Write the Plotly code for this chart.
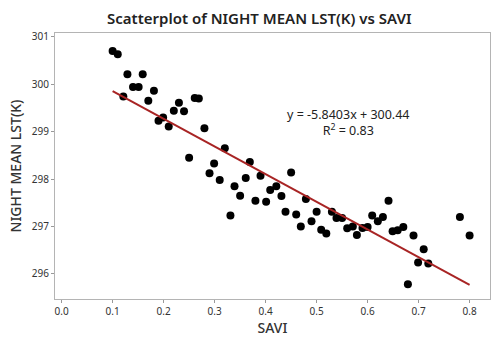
import plotly.graph_objects as go

savi = [0.100, 0.110, 0.129, 0.159, 0.140, 0.151, 0.121, 0.181, 0.170, 0.230,
        0.220, 0.240, 0.261, 0.269, 0.199, 0.190, 0.210, 0.280, 0.320, 0.299,
        0.290, 0.310, 0.369, 0.339, 0.361, 0.350, 0.331, 0.390, 0.380, 0.401,
        0.450, 0.409, 0.421, 0.431, 0.439, 0.460, 0.479, 0.469, 0.500, 0.490,
        0.509, 0.519, 0.530, 0.539, 0.550, 0.560, 0.571, 0.579, 0.590, 0.600,
        0.609, 0.620, 0.630, 0.641, 0.649, 0.659, 0.670, 0.690, 0.710, 0.699,
        0.719, 0.781, 0.800, 0.679, 0.250]
lst = [300.70, 300.63, 300.21, 300.21, 299.94, 299.94, 299.74, 299.86, 299.65, 299.61,
       299.44, 299.43, 299.71, 299.70, 299.30, 299.23, 299.11, 299.07, 298.65, 298.33,
       298.12, 297.98, 298.36, 297.85, 298.02, 297.65, 297.23, 298.07, 297.54, 297.52,
       298.14, 297.77, 297.85, 297.64, 297.31, 297.25, 297.58, 297.00, 297.31, 297.11,
       296.93, 296.85, 297.31, 297.18, 297.18, 296.96, 297.00, 296.82, 296.97, 296.99,
       297.23, 297.11, 297.20, 297.54, 296.90, 296.92, 296.99, 296.81, 296.52, 296.24,
       296.22, 297.20, 296.81, 295.78, 298.45]

slope = -5.8403
intercept = 300.44
fit_x = [0.1, 0.8]
fit_y = [slope * v + intercept for v in fit_x]

x_ticks = [0.0, 0.1, 0.2, 0.3, 0.4, 0.5, 0.6, 0.7, 0.8]
y_ticks = [296, 297, 298, 299, 300, 301]

fig = go.Figure()
fig.add_trace(go.Scatter(x=savi, y=lst, mode="markers",
                         marker=dict(color="black", size=8), showlegend=False))
fig.add_trace(go.Scatter(x=fit_x, y=fit_y, mode="lines",
                         line=dict(color="#A82424", width=2), showlegend=False))

fig.add_annotation(x=0.563, y=299.2, xref="x", yref="y",
                   text="y = -5.8403x + 300.44<br>R<sup>2</sup> = 0.83",
                   showarrow=False, align="center",
                   font=dict(family="Noto Sans", size=12.5, color="#222"))

fig.update_layout(
    width=492, height=337,
    margin=dict(l=55, r=1, t=33, b=33),
    paper_bgcolor="white", plot_bgcolor="white",
    font=dict(family="Noto Sans", color="#333"),
    title=dict(text="Scatterplot of NIGHT MEAN LST(K) vs SAVI",
               x=0.527, xanchor="center", y=0.945, yanchor="middle",
               font=dict(family="Noto Sans", size=15, color="#222", weight=600)),
)
fig.update_xaxes(range=[-0.013, 0.84], tickvals=x_ticks,
                 ticktext=[f"{v:.1f}" for v in x_ticks],
                 showgrid=False, zeroline=False, showline=True, mirror=True,
                 linecolor="#b4b4b4", linewidth=1, ticks="outside", ticklen=3,
                 tickcolor="#999", tickfont=dict(size=10, color="#333"),
                 title=dict(text="SAVI", font=dict(size=14, color="#333", weight=500), standoff=8))
fig.update_yaxes(range=[295.47, 301.08], tickvals=y_ticks,
                 showgrid=False, zeroline=False, showline=True, mirror=True,
                 linecolor="#b4b4b4", linewidth=1, ticks="outside", ticklen=3,
                 tickcolor="#999", tickfont=dict(size=10, color="#333"),
                 title=dict(text="NIGHT MEAN LST(K)", font=dict(size=14, color="#333", weight=500), standoff=6))

fig.write_html("out.html")
